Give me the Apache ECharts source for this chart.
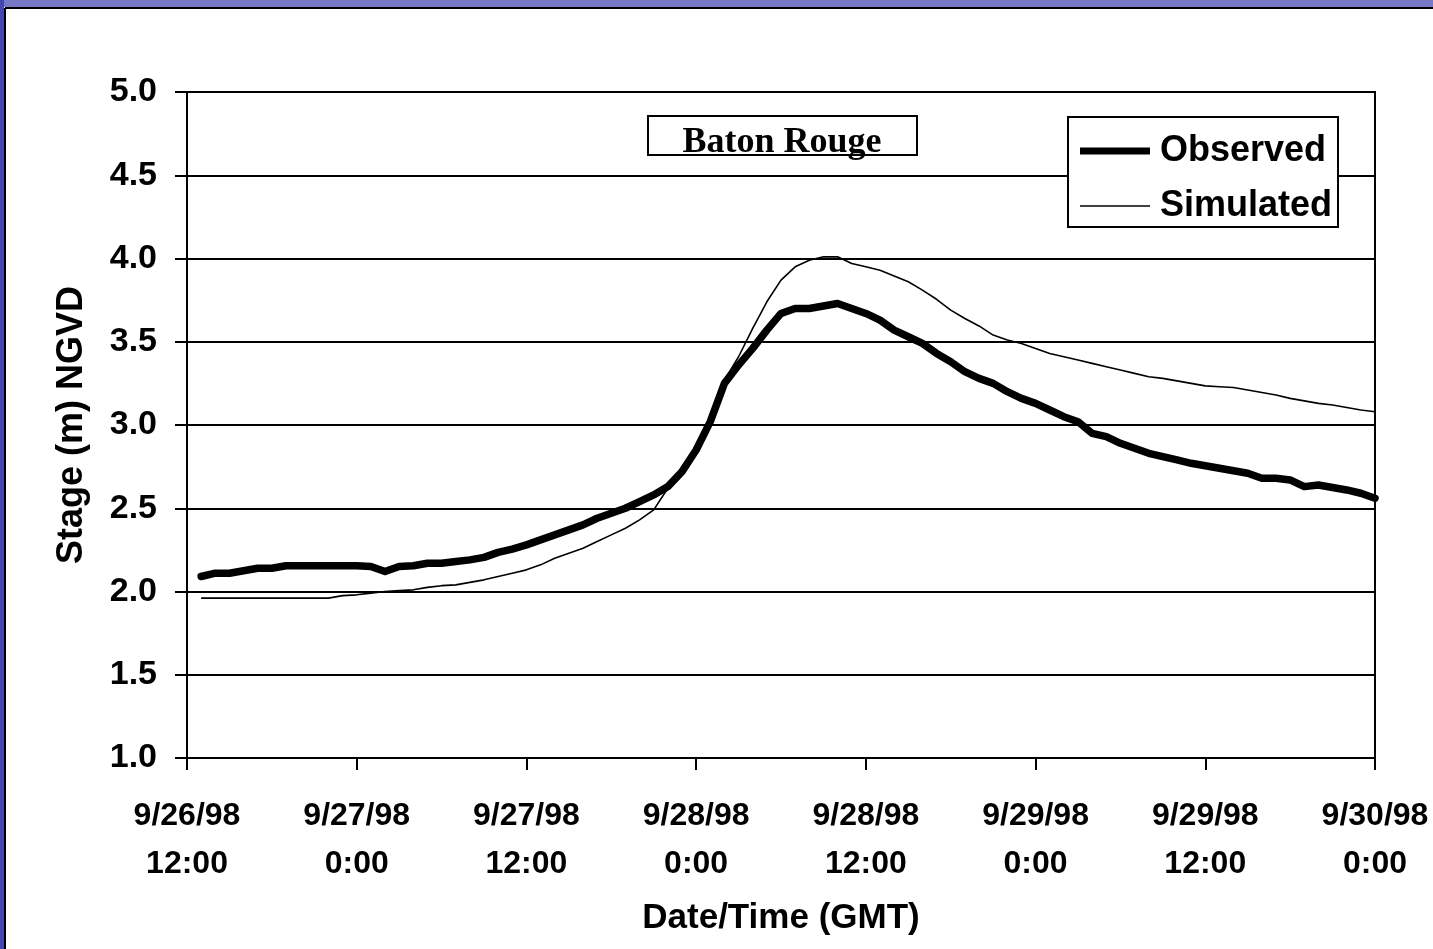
<!DOCTYPE html>
<html>
<head>
<meta charset="utf-8">
<script src="https://cdn.jsdelivr.net/npm/echarts@6/dist/echarts.min.js"></script>
<style>
html,body{margin:0;padding:0;background:#fff;}
#chart{width:1433px;height:949px;}
</style>
</head>
<body>
<div id="chart"></div>
<script>
// Hours after 9/26/98 12:00 GMT; readings are hourly starting at hour 1
const startHour = 1;
const stepHours = 1;

const tickLabels = [
  "9/26/98\n12:00", "9/27/98\n0:00", "9/27/98\n12:00", "9/28/98\n0:00",
  "9/28/98\n12:00", "9/29/98\n0:00", "9/29/98\n12:00", "9/30/98\n0:00"
];

const observed = [
  2.09, 2.11, 2.11, 2.125, 2.14, 2.14, 2.155, 2.155, 2.155, 2.155,
  2.155, 2.155, 2.15, 2.12, 2.15, 2.155, 2.17, 2.17, 2.18, 2.19,
  2.205, 2.235, 2.255, 2.28, 2.31, 2.34, 2.37, 2.40, 2.44, 2.47,
  2.50, 2.54, 2.58, 2.63, 2.72, 2.85, 3.02, 3.25, 3.36, 3.46,
  3.57, 3.67, 3.70, 3.70, 3.715, 3.73, 3.70, 3.67, 3.63, 3.57,
  3.53, 3.49, 3.43, 3.38, 3.32, 3.28, 3.25, 3.20, 3.16, 3.13,
  3.09, 3.05, 3.02, 2.95, 2.93, 2.89, 2.86, 2.83, 2.81, 2.79,
  2.77, 2.755, 2.74, 2.725, 2.71, 2.68, 2.68, 2.67, 2.63, 2.64,
  2.625, 2.61, 2.59, 2.56
];

const simulated = [
  1.96, 1.96, 1.96, 1.96, 1.96, 1.96, 1.96, 1.96, 1.96, 1.96,
  1.975, 1.98, 1.99, 2.00, 2.005, 2.01, 2.025, 2.035, 2.04, 2.055,
  2.07, 2.09, 2.11, 2.13, 2.16, 2.20, 2.23, 2.26, 2.30, 2.34,
  2.38, 2.43, 2.49, 2.62, 2.72, 2.84, 3.01, 3.27, 3.41, 3.58,
  3.74, 3.87, 3.95, 3.99, 4.01, 4.01, 3.97, 3.95, 3.93, 3.895,
  3.86, 3.81, 3.755, 3.69, 3.64, 3.595, 3.54, 3.51, 3.49, 3.46,
  3.43, 3.41, 3.39, 3.37, 3.35, 3.33, 3.31, 3.29, 3.28, 3.265,
  3.25, 3.235, 3.23, 3.225, 3.21, 3.195, 3.18, 3.16, 3.145, 3.13,
  3.12, 3.105, 3.09, 3.08
];

function toPairs(vals) {
  return vals.map((v, i) => [startHour + i * stepHours, v]);
}

const chart = echarts.init(document.getElementById('chart'), null, {renderer: 'canvas'});
const labelFont = 'Liberation Sans, Arial, sans-serif';

chart.setOption({
  backgroundColor: '#ffffff',
  animation: false,
  grid: {
    left: 187, right: 58, top: 92, bottom: 191,
    show: true, borderColor: '#000', borderWidth: 2, backgroundColor: '#fff'
  },
  xAxis: {
    type: 'value', min: 0, max: 84, interval: 12,
    name: 'Date/Time (GMT)', nameLocation: 'middle', nameGap: 143,
    nameTextStyle: {fontFamily: labelFont, fontWeight: 'bold', fontSize: 35, color: '#000'},
    axisLine: {show: true, lineStyle: {color: '#000', width: 2}},
    axisTick: {show: true, length: 12, lineStyle: {color: '#000', width: 2}},
    splitLine: {show: false},
    axisLabel: {
      margin: 34, lineHeight: 48, fontFamily: labelFont, fontWeight: 'bold', fontSize: 32, color: '#000',
      formatter: v => tickLabels[Math.round(v / 12)] || ''
    }
  },
  yAxis: {
    type: 'value', min: 1, max: 5, interval: 0.5,
    name: 'Stage (m) NGVD', nameLocation: 'middle', nameGap: 97, nameRotate: 90,
    nameTextStyle: {fontFamily: labelFont, fontWeight: 'bold', fontSize: 36, color: '#000'},
    axisLine: {show: true, lineStyle: {color: '#000', width: 2}},
    axisTick: {show: true, length: 12, lineStyle: {color: '#000', width: 2}},
    splitLine: {show: true, lineStyle: {color: '#000', width: 2}},
    axisLabel: {
      margin: 30, fontFamily: labelFont, fontWeight: 'bold', fontSize: 34, color: '#000',
      formatter: v => v.toFixed(1)
    }
  },
  legend: {
    orient: 'vertical', left: 1068, top: 120,
    padding: [11, 8, 4, 12], itemGap: 15, itemWidth: 70, itemHeight: 14,
    z: 10,
    textStyle: {fontFamily: labelFont, fontWeight: 'bold', fontSize: 36, color: '#000', lineHeight: 40, padding: [0, 0, 0, 5]},
    data: [
      {name: 'Observed', icon: 'path://M0,0 L70,0 L70,7 L0,7 Z', itemStyle: {color: '#000'}},
      {name: 'Simulated', icon: 'path://M0,0 L70,0 L70,1.6 L0,1.6 Z', itemStyle: {color: '#000'}}
    ]
  },
  graphic: [
    {type: 'rect', shape: {x: 0, y: 0, width: 1433, height: 7}, style: {fill: '#7878c8'}, z: 100, silent: true},
    {type: 'rect', shape: {x: 0, y: 0, width: 4, height: 949}, style: {fill: '#4646b2'}, z: 100, silent: true},
    {type: 'line', shape: {x1: 5, y1: 8, x2: 1433, y2: 8}, style: {stroke: '#000', lineWidth: 2}, z: 100, silent: true},
    {type: 'line', shape: {x1: 5, y1: 8, x2: 5, y2: 949}, style: {stroke: '#000', lineWidth: 2}, z: 100, silent: true},
    {type: 'rect', shape: {x: 1068, y: 117, width: 270, height: 110}, style: {fill: '#fff', stroke: '#000', lineWidth: 2}, z: 5, silent: true},
    {type: 'rect', shape: {x: 648, y: 116, width: 269, height: 39}, style: {fill: '#fff', stroke: '#000', lineWidth: 2}, z: 5, silent: true},
    {type: 'text', x: 782, y: 161, z: 6, silent: true,
      style: {text: 'Baton Rouge', fill: '#000', font: 'bold 36px "Liberation Serif", "Times New Roman", serif', textAlign: 'center', textVerticalAlign: 'bottom'}}
  ],
  series: [
    {
      name: 'Observed', type: 'line', data: toPairs(observed), showSymbol: false, symbol: 'none',
      lineStyle: {color: '#000', width: 7.5, join: 'round', cap: 'round'}, itemStyle: {color: '#000'}, z: 3
    },
    {
      name: 'Simulated', type: 'line', data: toPairs(simulated), showSymbol: false, symbol: 'none',
      lineStyle: {color: '#000', width: 1.6}, itemStyle: {color: '#000'}, z: 4
    }
  ]
});
</script>
</body>
</html>
